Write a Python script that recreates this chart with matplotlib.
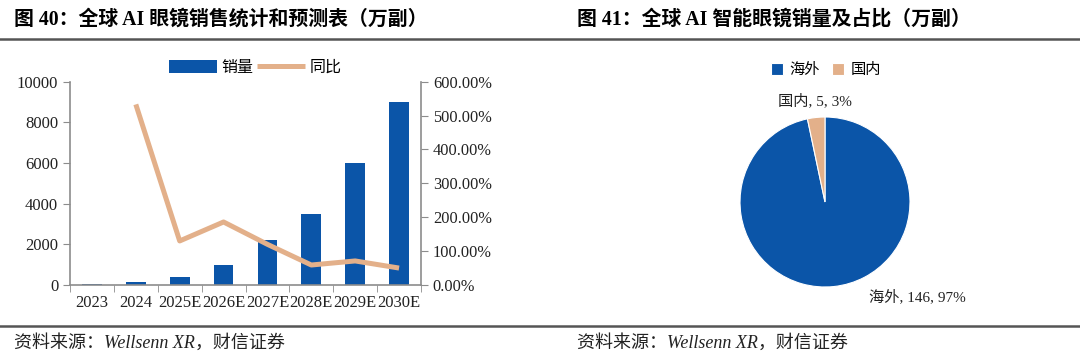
import matplotlib.pyplot as plt
from matplotlib.lines import Line2D
from matplotlib.ticker import PercentFormatter, FixedLocator

plt.rcParams['font.family'] = ['Liberation Serif', 'Noto Sans CJK SC']

years = ['2023', '2024', '2025E', '2026E', '2027E', '2028E', '2029E', '2030E']
sales = [70, 160, 380, 1000, 2200, 3500, 6000, 9000]
yoy = [None, 533, 130, 186, 120, 59, 71, 50]

pie_names = ['海外', '国内']
pie_vals = [146, 5]
pie_pct = [97, 3]

blue = '#0B55A8'
tan = '#E3B08A'
grey = '#8C8C8C'

fig = plt.figure(figsize=(10.8, 3.61), dpi=100)

# titles, rules and sources
fig.text(14 / 1080, 1 - 20 / 361, '图 40：全球 AI 眼镜销售统计和预测表（万副）',
         fontsize=14.3, fontweight='bold', va='center')
fig.text(577 / 1080, 1 - 20 / 361, '图 41：全球 AI 智能眼镜销量及占比（万副）',
         fontsize=14.3, fontweight='bold', va='center')
for yy in (39, 326):
    fig.add_artist(Line2D([0, 1], [1 - yy / 361] * 2, color='#555555', lw=1.8))
for xx in (14, 577):
    fig.text(xx / 1080, 1 - 343 / 361, '资料来源：Wellsenn XR，财信证券',
             fontsize=13, style='italic', va='center', color='#222222')

# bar + line chart
ax = fig.add_axes([70 / 1080, 76 / 361, 351 / 1080, 203.3 / 361])
x = list(range(len(years)))
bars = ax.bar(x, sales, width=0.45, color=blue, label='销量')
ax.set_ylim(0, 10000)
ax.set_xlim(-0.5, len(years) - 0.5)
ax.set_yticks(range(0, 10001, 2000))
ax.set_xticks(x)
ax.set_xticklabels(years)
ax.xaxis.set_minor_locator(FixedLocator([i - 0.5 for i in range(len(years) + 1)]))
ax.tick_params(axis='x', which='major', length=0, pad=7, labelsize=12, colors='#222222')
ax.tick_params(axis='x', which='minor', length=5, color=grey, direction='out')
ax.tick_params(axis='y', length=5, color=grey, labelsize=12, colors='#222222')
ax.spines['top'].set_visible(False)
ax.spines['right'].set_visible(False)
for s in ('left', 'bottom'):
    ax.spines[s].set_color(grey)
    ax.spines[s].set_linewidth(1.2)

ax2 = ax.twinx()
line, = ax2.plot(x[1:], yoy[1:], color=tan, lw=3.6, label='同比', solid_capstyle='butt')
ax2.set_ylim(0, 600)
ax2.set_yticks(range(0, 601, 100))
ax2.yaxis.set_major_formatter(PercentFormatter(xmax=100, decimals=2))
ax2.tick_params(axis='y', length=5, color=grey, labelsize=11.8, colors='#222222')
for s in ('top', 'left', 'bottom'):
    ax2.spines[s].set_visible(False)
ax2.spines['right'].set_color(grey)
ax2.spines['right'].set_linewidth(1.2)

fig.legend([bars, line], ['销量', '同比'], loc='center', bbox_to_anchor=(255 / 1080, 1 - 68 / 361),
           ncol=2, frameon=False, fontsize=11.5, handlelength=3.0, handleheight=0.9,
           columnspacing=0.2, handletextpad=0.3)

# pie chart
pax = fig.add_axes([(825 - 85) / 1080, (361 - 202 - 85) / 361, 170 / 1080, 170 / 361])
wedges, _ = pax.pie(pie_vals, colors=[blue, tan], startangle=90, counterclock=False,
                    radius=1, wedgeprops=dict(linewidth=0.8, edgecolor='white'))
pax.set_xlim(-1, 1)
pax.set_ylim(-1, 1)
pax.set_aspect('equal')
pax.text(-0.12, 1.19, f'{pie_names[1]}, {pie_vals[1]}, {pie_pct[1]}%',
         ha='center', va='center', fontsize=11, color='#222222')
pax.text(1.09, -1.12, f'{pie_names[0]}, {pie_vals[0]}, {pie_pct[0]}%',
         ha='center', va='center', fontsize=11, color='#222222')
fig.legend(wedges, pie_names, loc='center', bbox_to_anchor=(826 / 1080, 1 - 70 / 361),
           ncol=2, frameon=False, fontsize=11, handlelength=0.8, handleheight=0.8,
           columnspacing=0.8, handletextpad=0.4)

fig.savefig('out.png', dpi=100, facecolor='white')
